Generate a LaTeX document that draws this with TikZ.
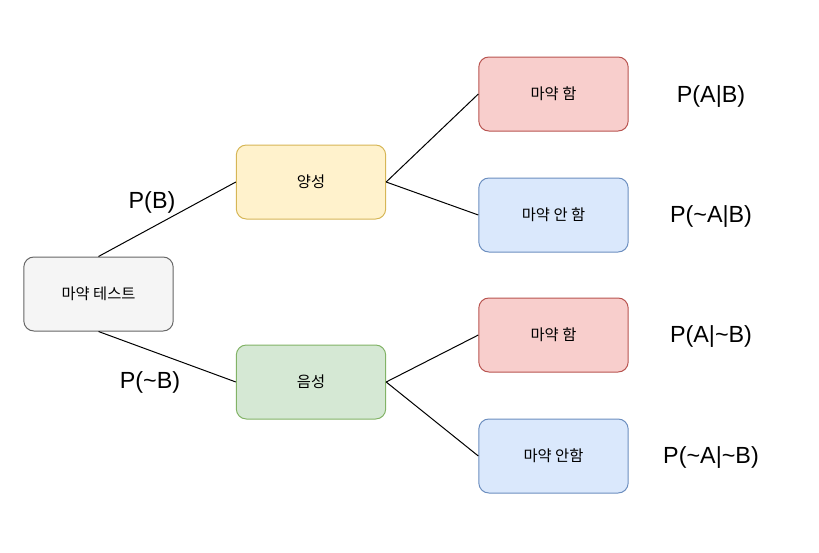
\documentclass[tikz,border=0pt]{standalone}
\usepackage{fontspec}
\setmainfont{Liberation Sans}
\newfontfamily\kor{Noto Sans CJK KR}
\usetikzlibrary{positioning}
\definecolor{grayfill}{HTML}{F5F5F5}
\definecolor{graydraw}{HTML}{666666}
\definecolor{yellowfill}{HTML}{FFF2CC}
\definecolor{yellowdraw}{HTML}{D6B656}
\definecolor{greenfill}{HTML}{D5E8D4}
\definecolor{greendraw}{HTML}{82B366}
\definecolor{redfill}{HTML}{F8CECC}
\definecolor{reddraw}{HTML}{B85450}
\definecolor{bluefill}{HTML}{DAE8FC}
\definecolor{bluedraw}{HTML}{6C8EBF}
\tikzset{box/.style={draw, rounded corners=7.5pt, line width=0.75pt, minimum width=112pt, minimum height=55.5pt, inner sep=0pt, font=\kor\fontsize{11.5}{13}\selectfont}}
\tikzset{probtext/.style={font=\fontsize{17.5}{20}\selectfont, inner sep=0pt}}

\begin{document}
\begin{tikzpicture}[x=0.75pt, y=-0.75pt]
    \useasboundingbox (0,0) rectangle (819,553);
    % boxes
    \node[box, fill=grayfill, draw=graydraw] (test) at (98.5,294) {마약 테스트};
    \node[box, fill=yellowfill, draw=yellowdraw] (pos) at (311,182) {양성};
    \node[box, fill=greenfill, draw=greendraw] (neg) at (311,382) {음성};
    \node[box, fill=redfill, draw=reddraw] (posA) at (553.5,94) {마약 함};
    \node[box, fill=bluefill, draw=bluedraw] (posNotA) at (553.5,215) {마약 안 함};
    \node[box, fill=redfill, draw=reddraw] (negA) at (553.5,335) {마약 함};
    \node[box, fill=bluefill, draw=bluedraw] (negNotA) at (553.5,456) {마약 안함};
    % lines
    \draw[line width=0.75pt] (test.north) -- (pos.west);
    \draw[line width=0.75pt] (test.south) -- (neg.west);
    \draw[line width=0.75pt] (pos.east) -- (posA.west);
    \draw[line width=0.75pt] (pos.east) -- (posNotA.west);
    \draw[line width=0.75pt] (neg.east) -- (negA.west);
    \draw[line width=0.75pt] (neg.east) -- (negNotA.west);
    % probabilities
    \node[probtext] (pB) at (152,202) {P(B)};
    \node[probtext] (pNotB) at (150,382) {P(\textasciitilde B)};
    \node[probtext] (pAB) at (711,97) {P(A|B)};
    \node[probtext] (pNotAB) at (711,217) {P(\textasciitilde A|B)};
    \node[probtext] (pANotB) at (711,337) {P(A|\textasciitilde B)};
    \node[probtext] (pNotANotB) at (711,458) {P(\textasciitilde A|\textasciitilde B)};
\end{tikzpicture}
\end{document}
